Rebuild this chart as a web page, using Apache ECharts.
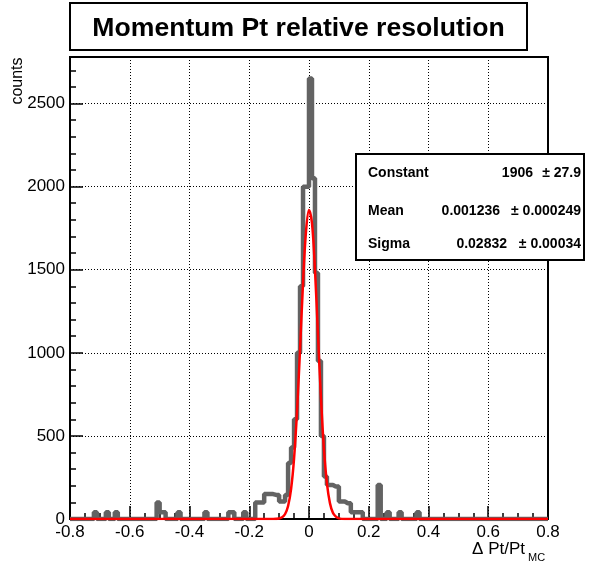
<!DOCTYPE html>
<html>
<head>
<meta charset="utf-8">
<script src="https://cdn.jsdelivr.net/npm/echarts@6/dist/echarts.min.js"></script>
<style>
html,body{margin:0;padding:0;background:#fff;}
#chart{width:597px;height:566px;}
</style>
</head>
<body>
<div id="chart"></div>
<script>
// ---- data ----
const binStart = -0.8;
const binWidth = 0.01;
const nBins = 160;
// lower edges of non-empty bins and their contents
const filledBinLow = [-0.72,-0.68,-0.65,-0.51,-0.50,-0.49,-0.44,-0.35,-0.27,-0.26,-0.22,
  -0.18,-0.17,-0.16,-0.15,-0.14,-0.13,-0.12,-0.11,-0.10,-0.09,-0.08,-0.07,-0.06,-0.05,
  -0.04,-0.03,-0.02,-0.01,0.00,0.01,0.02,0.03,0.04,0.05,0.06,0.07,0.08,0.09,0.10,0.11,
  0.12,0.13,0.14,0.15,0.16,0.17,0.23,0.26,0.30,0.36];
const filledBinCount = [40,40,40,100,40,40,40,40,40,40,40,
  100,100,100,150,150,150,145,145,105,105,145,337,430,600,
  1000,1400,2000,2000,2650,2050,1480,950,500,255,205,205,195,195,105,105,
  95,95,40,40,40,40,205,40,40,40];
// fit curve points
const fitX = [-0.8,-0.12,-0.10,-0.09,-0.08,-0.07,-0.06,-0.05,-0.04,-0.03,-0.02,-0.01,0.0,
  0.01,0.02,0.03,0.04,0.05,0.06,0.07,0.08,0.09,0.10,0.12,0.8];
const fitY = [0,0,3,10,30,78,180,365,650,1020,1420,1730,1860,
  1780,1500,1110,730,420,215,97,38,14,4,0,0];
const xTicks = {min:-0.8, max:0.8, interval:0.2};
const yTicks = {min:0, max:2780, interval:500};
const statNames = ['Constant','Mean','Sigma'];
const statValues = ['1906','0.001236','0.02832'];
const statErrors = ['\u00b1 27.9','\u00b1 0.000249','\u00b1 0.00034'];

// ---- build series ----
const counts = new Array(nBins).fill(0);
filledBinLow.forEach((lo, k) => {
  const i = Math.round((lo - binStart) / binWidth);
  counts[i] = filledBinCount[k];
});
const histData = [];
for (let i = 0; i < nBins; i++) histData.push([+(binStart + i * binWidth).toFixed(4), counts[i]]);
histData.push([+(binStart + nBins * binWidth).toFixed(4), counts[nBins - 1]]);
const fitData = fitX.map((x, i) => [x, fitY[i]]);

const FONT = '"Liberation Sans", Arial, Helvetica, sans-serif';
const chart = echarts.init(document.getElementById('chart'), null, {renderer:'canvas'});

const statRowsY = [173, 211, 244];
const valueRight = [533, 500, 507];
const statGraphics = [];
statNames.forEach((n, i) => {
  statGraphics.push({type:'text', x:368, y:statRowsY[i], z:102,
    style:{text:n, font:'bold 14px ' + FONT, fill:'#000', textAlign:'left', textVerticalAlign:'middle'}});
  statGraphics.push({type:'text', x:valueRight[i], y:statRowsY[i], z:102,
    style:{text:statValues[i], font:'bold 14px ' + FONT, fill:'#000', textAlign:'right', textVerticalAlign:'middle'}});
  statGraphics.push({type:'text', x:581, y:statRowsY[i], z:102,
    style:{text:statErrors[i], font:'bold 14px ' + FONT, fill:'#000', textAlign:'right', textVerticalAlign:'middle'}});
});

chart.setOption({
  animation:false,
  backgroundColor:'#fff',
  grid:{left:70, right:49, top:57, bottom:47, show:true, borderColor:'#000', borderWidth:2, backgroundColor:'transparent'},
  xAxis:{
    type:'value', min:xTicks.min, max:xTicks.max, interval:xTicks.interval,
    axisLine:{show:true, onZero:false, lineStyle:{color:'#000', width:2}},
    axisTick:{show:true, inside:true, length:13, lineStyle:{color:'#000', width:1.5}},
    minorTick:{show:true, splitNumber:4, length:6, lineStyle:{color:'#000', width:1.5}},
    splitLine:{show:true, lineStyle:{color:'#000', width:1, type:[1,2]}},
    axisLabel:{color:'#000', fontSize:17, fontFamily:FONT, margin:5,
      formatter:v => (Math.abs(v) < 1e-9 ? '0' : (+v.toFixed(1)).toString())}
  },
  yAxis:{
    type:'value', min:yTicks.min, max:yTicks.max, interval:yTicks.interval,
    axisLine:{show:true, onZero:false, lineStyle:{color:'#000', width:2}},
    axisTick:{show:true, inside:true, length:13, lineStyle:{color:'#000', width:1.5}},
    minorTick:{show:true, splitNumber:5, length:6, lineStyle:{color:'#000', width:1.5}},
    splitLine:{show:true, lineStyle:{color:'#000', width:1, type:[1,2]}},
    axisLabel:{color:'#000', fontSize:17, fontFamily:FONT, margin:5, showMaxLabel:false,
      formatter:v => (v % 500 === 0 ? String(v) : '')}
  },
  series:[
    {type:'line', data:histData, step:'end', symbol:'none', z:3,
      lineStyle:{color:'#636363', width:4.5}},
    {type:'line', data:fitData, smooth:0.35, symbol:'none', z:4,
      lineStyle:{color:'#ff0000', width:2.5}}
  ],
  graphic:[
    {type:'rect', shape:{x:70, y:3, width:457, height:47}, z:100,
      style:{fill:'#fff', stroke:'#000', lineWidth:2}},
    {type:'text', x:298.5, y:29, z:101,
      style:{text:'Momentum Pt relative resolution', font:'bold 26.6px ' + FONT, fill:'#000', textAlign:'center', textVerticalAlign:'middle'}},
    {type:'rect', shape:{x:356, y:154, width:228, height:106}, z:100,
      style:{fill:'#fff', stroke:'#000', lineWidth:2}},
    ...statGraphics,
    {type:'text', x:18, y:81, rotation:Math.PI/2, z:101,
      style:{text:'counts', font:'16px ' + FONT, fill:'#000', textAlign:'center', textVerticalAlign:'middle'}},
    {type:'text', x:525, y:549, z:101,
      style:{text:'\u0394 Pt/Pt', font:'17px ' + FONT, fill:'#000', textAlign:'right', textVerticalAlign:'middle'}},
    {type:'text', x:528, y:558, z:101,
      style:{text:'MC', font:'11px ' + FONT, fill:'#000', textAlign:'left', textVerticalAlign:'middle'}}
  ]
});
</script>
</body>
</html>
